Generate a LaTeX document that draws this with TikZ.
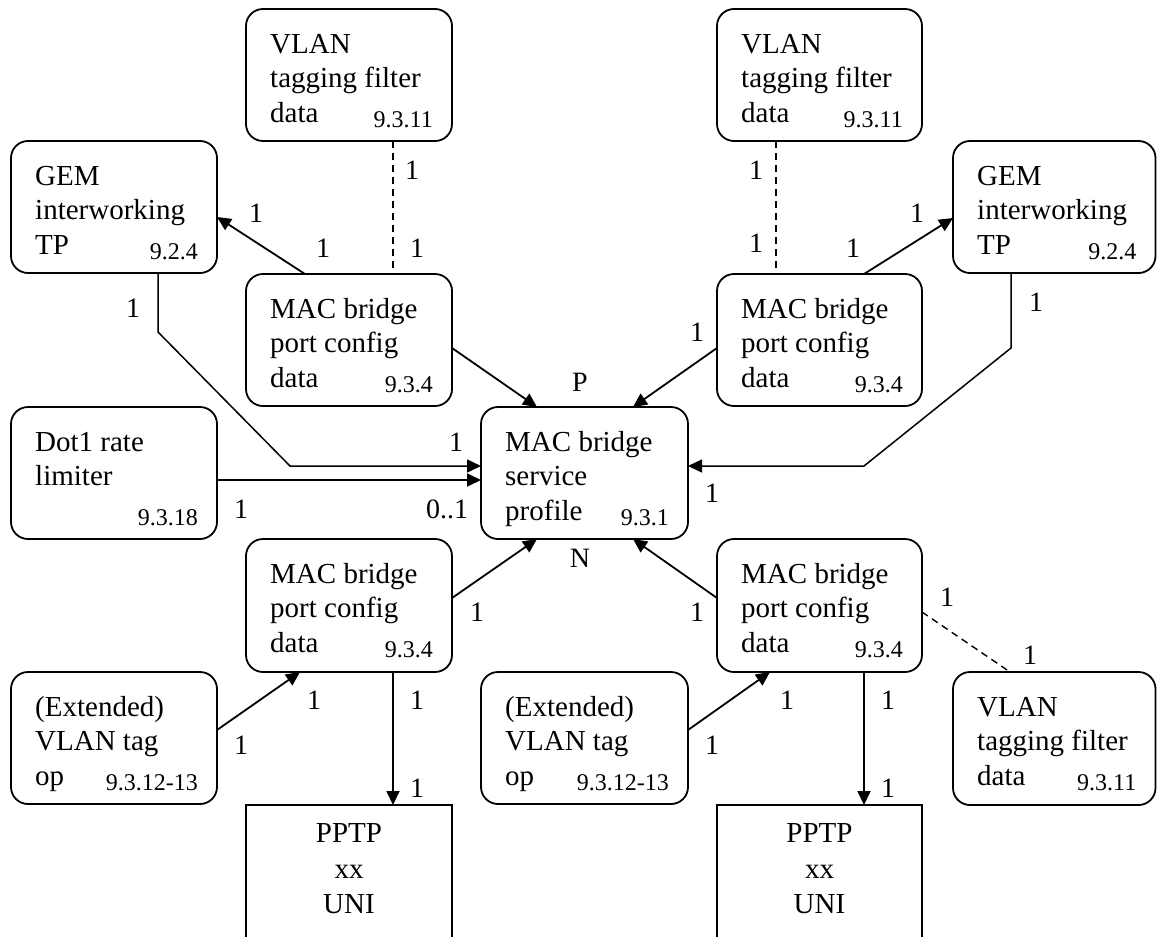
\documentclass[tikz,border=0pt]{standalone}
\usepackage{fontspec}
\setmainfont{Liberation Serif}
\usetikzlibrary{arrows.meta,calc}
\tikzset{
 obox/.style={draw, line width=1.8pt, rounded corners=17pt, minimum width=206pt, minimum height=132pt, inner sep=0pt, outer sep=0pt, anchor=north west},
 sqbox/.style={draw, line width=1.3pt, minimum width=206pt, minimum height=150pt, inner sep=0pt, outer sep=0pt, anchor=north west},
 txt/.style={anchor=base west, inner sep=0pt, font=\fontsize{29}{34.5}\selectfont},
 num/.style={anchor=base east, inner sep=0pt, font=\fontsize{24}{28}\selectfont},
 ctxt/.style={anchor=base, inner sep=0pt, font=\fontsize{29}{34.5}\selectfont},
 lbl/.style={inner sep=0pt, font=\fontsize{28}{32}\selectfont},
 arr/.style={line width=1.8pt, -{Triangle[length=14pt,width=13pt]}},
 plainline/.style={line width=1.5pt},
 dsh/.style={line width=1.4pt, dash pattern=on 7pt off 5pt},
}
\newcommand\ombox[7][]{%
 \node[obox,#1] (#2) at (#3) {};
 \node[txt] (#2-a) at ([xshift=24pt,yshift=-44pt]#2.north west) {#4};
 \node[txt] (#2-b) at ([xshift=24pt,yshift=-78.5pt]#2.north west) {#5};
 \node[txt] (#2-c) at ([xshift=24pt,yshift=-113pt]#2.north west) {#6};
 \node[num] (#2-d) at ([xshift=-19pt,yshift=-118pt]#2.north east) {#7};
}
\begin{document}
\begin{tikzpicture}[x=1pt,y=-1pt]
\useasboundingbox (0,0) rectangle (1157,937);
\clip (0,0) rectangle (1157,937);

% boxes
\ombox{vtl}{246,9}{VLAN}{tagging filter}{data}{9.3.11}
\ombox{gl}{11,141}{GEM}{interworking}{TP}{9.2.4}
\ombox{mtl}{246,274}{MAC bridge}{port config}{data}{9.3.4}
\ombox{dot}{11,407}{Dot1 rate}{limiter}{}{9.3.18}
\ombox[minimum width=207pt]{sp}{481,407}{MAC bridge}{service}{profile}{9.3.1}
\ombox[minimum width=205pt]{vtr}{717,9}{VLAN}{tagging filter}{data}{9.3.11}
\ombox[minimum width=205pt]{mtr}{717,274}{MAC bridge}{port config}{data}{9.3.4}
\ombox[minimum width=202.5pt]{gr}{953,141}{GEM}{interworking}{TP}{9.2.4}
\ombox[minimum height=133pt]{mbl}{246,539}{MAC bridge}{port config}{data}{9.3.4}
\ombox[minimum width=205pt,minimum height=133pt]{mbr}{717,539}{MAC bridge}{port config}{data}{9.3.4}
\ombox{el}{11,672}{(Extended)}{VLAN tag}{op}{9.3.12-13}
\ombox[minimum width=207pt]{er}{481,672}{(Extended)}{VLAN tag}{op}{9.3.12-13}
\ombox[minimum width=202.5pt,minimum height=133pt]{vbr}{953,672}{VLAN}{tagging filter}{data}{9.3.11}

\node[sqbox] (pl) at (246,805) {};
\node[ctxt] (pl-a) at (349,842) {PPTP};
\node[ctxt] (pl-b) at (349,878) {xx};
\node[ctxt] (pl-c) at (349,913) {UNI};
\node[sqbox,minimum width=205pt] (pr) at (717,805) {};
\node[ctxt] (pr-a) at (819.5,842) {PPTP};
\node[ctxt] (pr-b) at (819.5,878) {xx};
\node[ctxt] (pr-c) at (819.5,913) {UNI};

% connectors top-left
\draw[arr] (mtl.north -| 305,0) -- (gl.east |- 0,217);
\draw[dsh] (vtl.south -| 393,0) -- (mtl.north -| 393,0);
\draw[arr,line width=1.5pt] (gl.south -| 158,0) -- (158,332) -- (290,466) -- (sp.west |- 0,466);
\draw[arr] (dot.east |- 0,480) -- (sp.west |- 0,480);
\draw[arr] (mtl.east |- 0,348) -- (sp.north -| 537,0);
% top-right
\draw[arr] (mtr.west |- 0,348) -- (sp.north -| 633,0);
\draw[arr] (mtr.north -| 864,0) -- (gr.west |- 0,218);
\draw[dsh] (vtr.south -| 776,0) -- (mtr.north -| 776,0);
\draw[arr,line width=1.5pt] (gr.south -| 1011,0) -- (1011,348) -- (864,466) -- (sp.east |- 0,466);
% bottom
\draw[arr] (mbl.east |- 0,598) -- (sp.south -| 537,0);
\draw[arr] (mbr.west |- 0,598) -- (sp.south -| 633,0);
\draw[dsh] (mbr.east |- 0,612) -- (vbr.north -| 1010,0);
\draw[arr] (el.east |- 0,730) -- (mbl.south -| 300,0);
\draw[arr] (mbl.south -| 393,0) -- (pl.north -| 393,0);
\draw[arr] (er.east |- 0,730) -- (mbr.south -| 770,0);
\draw[arr] (mbr.south -| 864,0) -- (pr.north -| 864,0);

% labels
\node[lbl] (l1) at (256,213) {1};
\node[lbl] (l2) at (323,248) {1};
\node[lbl] (l3) at (412,170) {1};
\node[lbl] (l4) at (417,248) {1};
\node[lbl] (l5) at (133,308) {1};
\node[lbl] (l6) at (456,442) {1};
\node[lbl] (l7) at (241,509) {1};
\node[lbl] (l8) at (447,509) {0..1};
\node[lbl] (lp) at (580,382) {P};
\node[lbl] (ln) at (580,558) {N};
\node[lbl] (l9) at (697,332) {1};
\node[lbl] (l10) at (756,170) {1};
\node[lbl] (l11) at (756,243) {1};
\node[lbl] (l12) at (853,248) {1};
\node[lbl] (l13) at (917,213) {1};
\node[lbl] (l14) at (1036,302) {1};
\node[lbl] (l15) at (712,493) {1};
\node[lbl] (l16) at (477,612) {1};
\node[lbl] (l17) at (697,612) {1};
\node[lbl] (l18) at (947,597) {1};
\node[lbl] (l19) at (1030,655) {1};
\node[lbl] (l20) at (314,700) {1};
\node[lbl] (l21) at (417,700) {1};
\node[lbl] (l22) at (241,745) {1};
\node[lbl] (l23) at (417,788) {1};
\node[lbl] (l24) at (787,700) {1};
\node[lbl] (l25) at (888,700) {1};
\node[lbl] (l26) at (712,745) {1};
\node[lbl] (l27) at (888,788) {1};
\end{tikzpicture}
\end{document}
